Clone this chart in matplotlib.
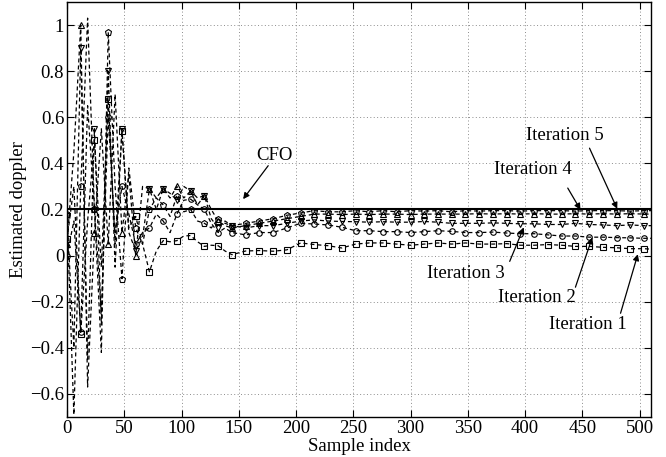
import matplotlib
matplotlib.use("Agg")
import matplotlib.pyplot as plt
import numpy as np
from matplotlib.ticker import FixedLocator, FuncFormatter

# ---------------- data ----------------
sample_index = [0, 6, 12, 18, 24, 30, 36, 42, 48, 54, 60, 66, 72, 78, 84, 90, 96, 102, 108,
                114, 120, 126, 132, 138, 144,
                156, 168, 180, 192, 204, 216, 228, 240, 252, 264, 276, 288, 300, 312, 324,
                336, 348, 360, 372, 384, 396, 408, 420, 432, 444, 456, 468, 480, 492, 504, 510]

iter1 = [0.07, 0.30, -0.34, 0.15, 0.50, -0.05, 0.68, 0.05, 0.54, 0.12, 0.17, 0.05, -0.07, 0.02,
         0.065, 0.06, 0.065, 0.085, 0.087, 0.06, 0.04, 0.045, 0.043, 0.02, 0.004,
         0.02, 0.022, 0.019, 0.025, 0.055, 0.048, 0.043, 0.033, 0.05, 0.055, 0.055, 0.05, 0.045,
         0.05, 0.055, 0.05, 0.055, 0.05, 0.05, 0.052, 0.045, 0.045, 0.048, 0.045, 0.04, 0.04,
         0.036, 0.034, 0.03, 0.03, 0.028]
iter2 = [0.00, 0.15, -0.33, 0.65, 0.20, -0.25, 0.60, 0.10, 0.30, 0.18, 0.05, 0.10, 0.12, 0.18,
         0.15, 0.10, 0.18, 0.24, 0.245, 0.22, 0.20, 0.14, 0.10, 0.12, 0.10,
         0.09, 0.10, 0.10, 0.12, 0.14, 0.137, 0.133, 0.123, 0.108, 0.108, 0.104, 0.104, 0.10,
         0.104, 0.108, 0.105, 0.10, 0.10, 0.102, 0.098, 0.095, 0.095, 0.09, 0.085, 0.085, 0.08,
         0.08, 0.078, 0.077, 0.075, 0.075]
iter3 = [0.17, -0.40, 0.90, -0.45, 0.55, -0.30, 0.80, -0.05, 0.55, 0.10, 0.02, 0.08, 0.29, 0.25,
         0.29, 0.27, 0.24, 0.30, 0.28, 0.25, 0.26, 0.16, 0.12, 0.15, 0.13,
         0.12, 0.13, 0.13, 0.14, 0.15, 0.155, 0.15, 0.148, 0.147, 0.145, 0.147, 0.145, 0.145,
         0.148, 0.145, 0.14, 0.14, 0.14, 0.142, 0.14, 0.138, 0.138, 0.135, 0.135, 0.14, 0.135,
         0.133, 0.13, 0.133, 0.13, 0.13]
iter4 = [0.05, 0.45, 1.00, -0.57, 0.10, 0.55, 0.05, 0.70, 0.10, 0.35, 0.00, 0.30, 0.29, 0.20,
         0.29, 0.25, 0.30, 0.25, 0.28, 0.22, 0.26, 0.20, 0.15, 0.13, 0.12,
         0.13, 0.14, 0.15, 0.16, 0.17, 0.18, 0.18, 0.178, 0.18, 0.178, 0.18, 0.18, 0.178,
         0.18, 0.18, 0.18, 0.18, 0.182, 0.18, 0.182, 0.18, 0.182, 0.18, 0.18, 0.182, 0.18,
         0.182, 0.18, 0.182, 0.18, 0.18]
iter5 = [0.18, -0.69, 0.30, 1.03, 0.20, -0.42, 0.97, 0.30, -0.10, 0.38, 0.12, 0.05, 0.20, 0.25,
         0.22, 0.17, 0.26, 0.19, 0.20, 0.15, 0.14, 0.12, 0.16, 0.14, 0.13,
         0.14, 0.15, 0.16, 0.175, 0.185, 0.195, 0.19, 0.19, 0.195, 0.19, 0.195, 0.19, 0.195,
         0.193, 0.195, 0.19, 0.195, 0.193, 0.195, 0.195, 0.193, 0.195, 0.195, 0.195, 0.193,
         0.195, 0.195, 0.195, 0.193, 0.195, 0.195]

series = [iter1, iter2, iter3, iter4, iter5]
series_markers = ['s', 'o', 'v', '^', 'p']
cfo_value = 0.2

x_ticks = [0, 50, 100, 150, 200, 250, 300, 350, 400, 450, 500]
y_ticks = [-0.6, -0.4, -0.2, 0, 0.2, 0.4, 0.6, 0.8, 1.0]

labels = ['Iteration 1', 'Iteration 2', 'Iteration 3', 'Iteration 4', 'Iteration 5']
label_pos = [(455, -0.299), (410, -0.182), (348, -0.078), (406.5, 0.372), (434.7, 0.519)]
arrow_start = [(483.4, -0.25), (444, -0.137), (386.6, -0.025), (437.3, 0.293), (456.3, 0.466)]
arrow_tip = [(498.5, 0.006), (458.7, 0.079), (398.9, 0.1225), (448.4, 0.199), (480.5, 0.203)]

# ---------------- figure ----------------
plt.rcParams['font.family'] = ['Liberation Serif', 'DejaVu Serif']
plt.rcParams['font.size'] = 13.5

fig = plt.figure(figsize=(6.66, 4.57), dpi=100)
ax = fig.add_axes([67 / 666, 40 / 457, (651 - 67) / 666, (417 - 2) / 457])

xs = np.array(sample_index)
mark_idx = [i for i, v in enumerate(sample_index) if v % 12 == 0]

for ys, m in zip(series, series_markers):
    ax.plot(xs, ys, color='k', linestyle=(0, (3.2, 2.4)), linewidth=0.9,
            marker=m, markersize=4.0 if m != 'p' else 5.0, markerfacecolor='none',
            markeredgecolor='k', markeredgewidth=0.8, markevery=mark_idx, zorder=3)

ax.axhline(cfo_value, color='k', linewidth=1.5, zorder=4)

ax.set_xlim(0, 510)
ax.set_ylim(-0.7, 1.1)
ax.xaxis.set_major_locator(FixedLocator(x_ticks))
ax.yaxis.set_major_locator(FixedLocator(y_ticks))
ax.yaxis.set_major_formatter(FuncFormatter(lambda v, p: f"{v:g}".replace('-', '\u2212')))
ax.tick_params(direction='in', length=5, width=0.8, top=True, right=True)
ax.tick_params(axis='x', pad=2)
ax.tick_params(axis='y', pad=2)
ax.grid(True, color='0.55', linestyle=(0, (1, 2.5)), linewidth=0.7)
for s in ax.spines.values():
    s.set_linewidth(1.0)
    s.set_color('k')

ax.set_xlabel('Sample index', labelpad=1)
ax.set_ylabel('Estimated doppler', labelpad=2)

arrow_props = dict(arrowstyle='-|>', color='k', lw=0.9, mutation_scale=9,
                   shrinkA=0, shrinkB=0)

# CFO annotation
ax.text(181.4, 0.433, 'CFO', ha='center', va='center', zorder=6)
ax.annotate('', xy=(153.8, 0.245), xytext=(175.7, 0.39), arrowprops=arrow_props, zorder=6)

for lab, tp, a0, a1 in zip(labels, label_pos, arrow_start, arrow_tip):
    ax.text(tp[0], tp[1], lab, ha='center', va='center', zorder=6)
    ax.annotate('', xy=a1, xytext=a0, arrowprops=arrow_props, zorder=6)

fig.savefig('out.png', dpi=100)
